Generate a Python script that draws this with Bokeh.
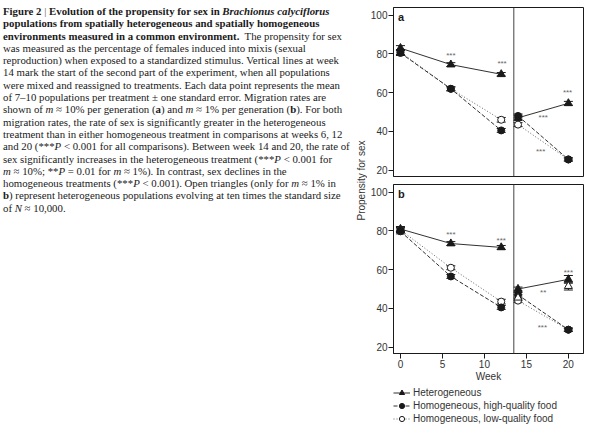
import math
from bokeh.plotting import figure
from bokeh.models import (Range1d, FixedTicker, Whisker, TeeHead, ColumnDataSource,
                          Span, Legend, LegendItem, Div)
from bokeh.layouts import row, column
from bokeh.embed import file_html
from bokeh.resources import INLINE
from bokeh.core.properties import value

# ---------------- data ----------------
weeks = [0, 6, 12, 14, 20]
x_ticks = [0, 5, 10, 15, 20]
y_ticks = [20, 40, 60, 80, 100]

# panel a: m ~ 10% per generation
a_het = [83.0, 74.5, 69.5, 47.0, 54.5]
a_het_se = [1.3, 1.0, 0.9, 1.3, 1.0]
a_hi = [80.5, 62.0, 40.5, 48.0, 25.5]
a_hi_se = [1.3, 1.0, 1.0, 1.0, 0.8]
a_lo = [81.0, 62.0, 46.0, 43.5, 25.5]
a_lo_se = [1.3, 1.0, 1.2, 1.0, 0.8]

# panel b: m ~ 1% per generation
b_het = [81.0, 73.5, 71.5, 50.0, 55.0]
b_het_se = [1.3, 1.0, 1.0, 1.0, 2.0]
b_hi = [79.8, 56.5, 40.5, 47.0, 29.0]
b_hi_se = [1.3, 1.0, 1.0, 1.2, 0.8]
b_lo = [80.5, 61.0, 43.5, 44.0, 29.0]
b_lo_se = [1.3, 1.0, 1.2, 1.0, 0.8]
b_big_weeks = [14, 20]
b_big = [45.5, 51.5]
b_big_se = [1.5, 2.0]

# significance marks
a_star_x = [6, 12.1, 19.9, 17.0, 16.7]
a_star_y = [79.0, 75.0, 60.0, 47.2, 29.7]
a_star_t = ["***", "***", "***", "***", "***"]
b_star_x = [6, 12.0, 20.0, 17.0, 16.9]
b_star_y = [78.0, 75.3, 58.4, 48.0, 30.0]
b_star_t = ["***", "***", "***", "**", "***"]

series_labels = ["Heterogeneous", "Homogeneous, high-quality food", "Homogeneous, low-quality food"]

caption_lines = [
    "<b>Figure 2</b> <span style='font-weight:normal;color:#555'>|</span> <b>Evolution of the propensity for sex in <i>Brachionus calyciflorus</i></b>",
    "<b>populations from spatially heterogeneous and spatially homogeneous</b>",
    "<b>environments measured in a common environment.</b>&nbsp; The propensity for sex",
    "was measured as the percentage of females induced into mixis (sexual",
    "reproduction) when exposed to a standardized stimulus. Vertical lines at week",
    "14 mark the start of the second part of the experiment, when all populations",
    "were mixed and reassigned to treatments. Each data point represents the mean",
    "of 7\u201310 populations per treatment \u00b1 one standard error. Migration rates are",
    "shown of <i>m</i> \u2248 10% per generation (<b>a</b>) and <i>m</i> \u2248 1% per generation (<b>b</b>). For both",
    "migration rates, the rate of sex is significantly greater in the heterogeneous",
    "treatment than in either homogeneous treatment in comparisons at weeks 6, 12",
    "and 20 (***<i>P</i> &lt; 0.001 for all comparisons). Between week 14 and 20, the rate of",
    "sex significantly increases in the heterogeneous treatment (***<i>P</i> &lt; 0.001 for",
    "<i>m</i> \u2248 10%; **<i>P</i> = 0.01 for <i>m</i> \u2248 1%). In contrast, sex declines in the",
    "homogeneous treatments (***<i>P</i> &lt; 0.001). Open triangles (only for <i>m</i> \u2248 1% in",
    "<b>b</b>) represent heterogeneous populations evolving at ten times the standard size",
    "of <i>N</i> \u2248 10,000.",
]

# ---------------- styling ----------------
SANS = "Liberation Sans"
INK = "#1a1a1a"
GREY = "#555555"
LBL = "#333333"


def style_axis(ax):
    ax.major_tick_out = 5
    ax.major_tick_in = 0
    ax.minor_tick_out = 0
    ax.minor_tick_in = 0
    ax.major_label_standoff = 1
    ax.axis_line_color = INK
    ax.major_tick_line_color = INK
    ax.major_label_text_font = SANS
    ax.major_label_text_font_size = "10px"
    ax.major_label_text_color = LBL


def make_panel(height, mb_top, mb_bottom, show_x):
    p = figure(width=220, height=height, output_backend="svg", toolbar_location=None,
               x_range=Range1d(-0.83, 21.8), y_range=Range1d(16.7, 104.0),
               min_border_left=23, min_border_right=4,
               min_border_top=mb_top, min_border_bottom=mb_bottom,
               x_axis_location="below" if show_x else None, margin=0)
    p.grid.visible = False
    p.outline_line_color = INK
    p.outline_line_width = 1
    for ax in p.yaxis:
        ax.ticker = FixedTicker(ticks=y_ticks)
        style_axis(ax)
    if show_x:
        for ax in p.xaxis:
            ax.ticker = FixedTicker(ticks=x_ticks)
            style_axis(ax)
            ax.axis_label = "Week"
            ax.axis_label_standoff = 0
            ax.axis_label_text_font = SANS
            ax.axis_label_text_font_size = "10px"
            ax.axis_label_text_font_style = "normal"
            ax.axis_label_text_color = LBL
    p.add_layout(Span(location=13.5, dimension="height", line_color="#444444", line_width=1))
    return p


def draw_series(p, wk, vals, se, dash, marker, fill, color, size, connect=True):
    if connect:
        p.line(wk[:3], vals[:3], line_dash=dash, line_color=color, line_width=0.9)
        p.line(wk[3:], vals[3:], line_dash=dash, line_color=color, line_width=0.9)
    src = ColumnDataSource(dict(x=wk, y=vals,
                                lo=[v - s for v, s in zip(vals, se)],
                                hi=[v + s for v, s in zip(vals, se)]))
    p.add_layout(Whisker(source=src, base="x", lower="lo", upper="hi",
                         line_color=INK, line_width=1,
                         upper_head=TeeHead(size=9, line_color=INK, line_width=1),
                         lower_head=TeeHead(size=9, line_color=INK, line_width=1)))
    p.scatter("x", "y", source=src, marker=marker, size=size,
              fill_color=fill, line_color=INK, line_width=1)


def stars(p, xs, ys, ts):
    p.text(x=xs, y=ys, text=ts, text_font=value(SANS), text_font_size="8px",
           text_color="#666666", text_align="center", text_baseline="middle")


def panel_letter(p, letter):
    p.text(x=[-0.3], y=[99.3], text=[letter], text_font=value(SANS), text_font_size="11px",
           text_font_style="bold", text_color=INK, text_align="left", text_baseline="middle")


# ---------------- panel a ----------------
pa = make_panel(180, 7, 4, False)
draw_series(pa, weeks, a_lo, a_lo_se, "1 2", "circle", "white", GREY, 7)
draw_series(pa, weeks, a_hi, a_hi_se, "4 2", "circle", INK, INK, 7)
draw_series(pa, weeks, a_het, a_het_se, "solid", "triangle", INK, INK, 8)
stars(pa, a_star_x, a_star_y, a_star_t)
panel_letter(pa, "a")

# ---------------- panel b ----------------
pb = make_panel(206, 4, 33, True)
draw_series(pb, weeks, b_lo, b_lo_se, "1 2", "circle", "white", GREY, 7)
draw_series(pb, weeks, b_hi, b_hi_se, "4 2", "circle", INK, INK, 7)
draw_series(pb, b_big_weeks, b_big, b_big_se, "solid", "triangle", "white", INK, 8, connect=False)
draw_series(pb, weeks, b_het, b_het_se, "solid", "triangle", INK, INK, 8)
stars(pb, b_star_x, b_star_y, b_star_t)
panel_letter(pb, "b")

# ---------------- legend strip ----------------
# the legend strip reuses panel b's series, drawn outside its visible range
pg = figure(width=220, height=46, output_backend="svg", toolbar_location=None,
            x_range=Range1d(100, 101), y_range=Range1d(0, 1),
            min_border_left=26, min_border_right=4, min_border_top=0, min_border_bottom=0,
            x_axis_location=None, y_axis_location=None, margin=0)
pg.grid.visible = False
pg.outline_line_color = None
styles = [("solid", "triangle", INK, INK, 8, b_het),
          ("4 2", "circle", INK, INK, 7, b_hi),
          ("1 2", "circle", "white", GREY, 7, b_lo)]
items = []
for lab, (dash, mk, fill, col, sz, vals) in zip(series_labels, styles):
    ln = pg.line(x=weeks, y=vals, line_dash=dash, line_color=col, line_width=0.9)
    sc = pg.scatter(x=weeks, y=vals, marker=mk, size=sz, fill_color=fill, line_color=INK, line_width=1)
    items.append(LegendItem(label=lab, renderers=[ln, sc]))
legend = Legend(items=items, location="top_left", orientation="vertical",
                border_line_color=None, background_fill_alpha=0,
                margin=0, padding=0, spacing=0,
                glyph_height=13, glyph_width=17, label_height=13, label_standoff=3,
                label_text_font=SANS, label_text_font_size="10px", label_text_color=LBL)
pg.add_layout(legend)

# ---------------- shared y label ----------------
pl = figure(width=14, height=432, output_backend="svg", toolbar_location=None,
            x_range=Range1d(0, 14), y_range=Range1d(432, 0),
            min_border=0, x_axis_location=None, y_axis_location=None, margin=0)
pl.grid.visible = False
pl.outline_line_color = None
pl.text(x=[8], y=[180], text=["Propensity for sex"], angle=math.pi / 2,
        text_font=value(SANS), text_font_size="10px", text_color=LBL,
        text_align="center", text_baseline="middle")

# ---------------- caption ----------------
html = ("<div style=\"font-family:'Liberation Serif',serif;font-size:10.8px;line-height:12.3px;"
        "color:#1a1a1a;white-space:nowrap;padding:5px 0 0 3px;\">"
        + "<br>".join(caption_lines) + "</div>")
cap = Div(text=html, width=353, height=432, margin=0)

layout = row(cap, pl, column(pa, pb, pg, margin=0), margin=0)

open("out.html", "w").write(file_html(layout, INLINE))
